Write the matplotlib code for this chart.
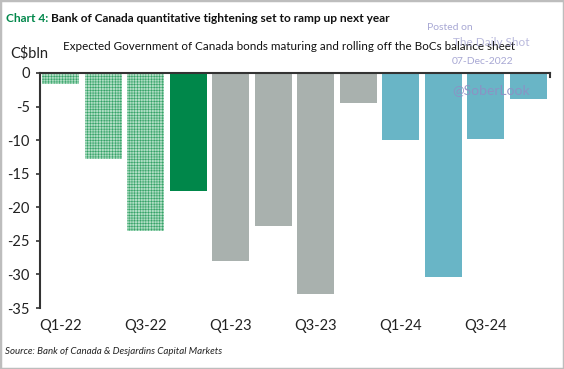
import matplotlib
matplotlib.use("Agg")
import matplotlib.pyplot as plt
from matplotlib.patches import Rectangle

plt.rcParams['font.family'] = ['Lato', 'DejaVu Sans']
plt.rcParams['hatch.linewidth'] = 0.4

quarters = ["Q1-22", "Q2-22", "Q3-22", "Q4-22", "Q1-23", "Q2-23", "Q3-23", "Q4-23",
            "Q1-24", "Q2-24", "Q3-24", "Q4-24"]
values = [-1.7, -12.8, -23.6, -17.6, -28.0, -22.8, -32.9, -4.5, -10.0, -30.4, -9.9, -3.9]
groups = ["past", "past", "past", "recent", "2023", "2023", "2023", "2023",
          "2024", "2024", "2024", "2024"]
tick_labels = ["Q1-22", "Q3-22", "Q1-23", "Q3-23", "Q1-24", "Q3-24"]
yticks = [0, -5, -10, -15, -20, -25, -30, -35]

styles = {
    "past": dict(facecolor="#aeddc3", edgecolor="#34a267", hatch="++++++", linewidth=0),
    "recent": dict(facecolor="#00874a", edgecolor="#00874a", linewidth=0),
    "2023": dict(facecolor="#a9b1ae", edgecolor="#a9b1ae", linewidth=0),
    "2024": dict(facecolor="#69b5c6", edgecolor="#69b5c6", linewidth=0),
}

W, H = 564, 369
fig = plt.figure(figsize=(W / 100, H / 100), dpi=100)
ax = fig.add_axes([39.5 / W, 1 - 308 / H, 510 / W, 235 / H])

x = list(range(len(quarters)))
for xi, v, g in zip(x, values, groups):
    ax.bar(xi, v, width=0.86, **styles[g])

ax.set_xlim(-0.5, len(quarters) - 0.5)
ax.set_ylim(-35, 0)
ax.set_yticks(yticks)
ax.set_yticklabels([str(t) for t in yticks], fontsize=10.5, color="#222222")
ax.tick_params(axis="y", direction="out", length=3, width=1.2, color="#333333", pad=4)
ax.set_xticks([quarters.index(t) for t in tick_labels])
ax.set_xticklabels(tick_labels, fontsize=10.5, color="#222222")
ax.tick_params(axis="x", length=0, pad=8)

for s in ["right", "bottom"]:
    ax.spines[s].set_visible(False)
ax.spines["left"].set_linewidth(1.5)
ax.spines["left"].set_color("#333333")
ax.spines["top"].set_linewidth(1.5)
ax.spines["top"].set_color("#333333")
ax.plot([1, 1], [1, 0.985], transform=ax.transAxes, color="#333333", lw=1.5, clip_on=False)

# Titles
t1 = fig.text(6 / W, 1 - 18 / H, "Chart 4:", fontsize=8.6, fontweight="bold",
              color="#00874a", va="center", ha="left")
fig.canvas.draw()
bb = t1.get_window_extent()
fig.text((bb.x1 + 3) / W, 1 - 18 / H,
         "Bank of Canada quantitative tightening set to ramp up next year",
         fontsize=8.6, fontweight="bold", color="#111111", va="center", ha="left")
fig.text(63 / W, 1 - 46 / H,
         "Expected Government of Canada bonds maturing and rolling off the BoCs balance sheet",
         fontsize=8.4, color="#111111", va="center", ha="left")
fig.text(10 / W, 1 - 53 / H, "C$bln", fontsize=10.5, color="#222222", va="center", ha="left")
fig.text(5 / W, 1 - 351 / H, "Source: Bank of Canada & Desjardins Capital Markets",
         fontsize=7, style="italic", color="#222222", va="center", ha="left")

# Watermark
wm = "#a8a8d4"
fig.text(427 / W, 1 - 27 / H, "Posted on", fontsize=7.5, color=wm, va="center", ha="left")
fig.text(453 / W, 1 - 43 / H, "The Daily Shot", fontsize=8.5, color=wm, va="center", ha="left", alpha=0.8)
fig.text(452 / W, 1 - 61 / H, "07-Dec-2022", fontsize=7.5, color=wm, va="center", ha="left")
fig.text(452 / W, 1 - 90 / H, "@SoberLook", fontsize=10, color="#8f8fc4", va="center", ha="left", alpha=0.9)

fig.patches.append(Rectangle((0, 0), 1, 1, transform=fig.transFigure, fill=False,
                             edgecolor="#bdbdbd", linewidth=2.5))

fig.savefig("out.png", dpi=100)
